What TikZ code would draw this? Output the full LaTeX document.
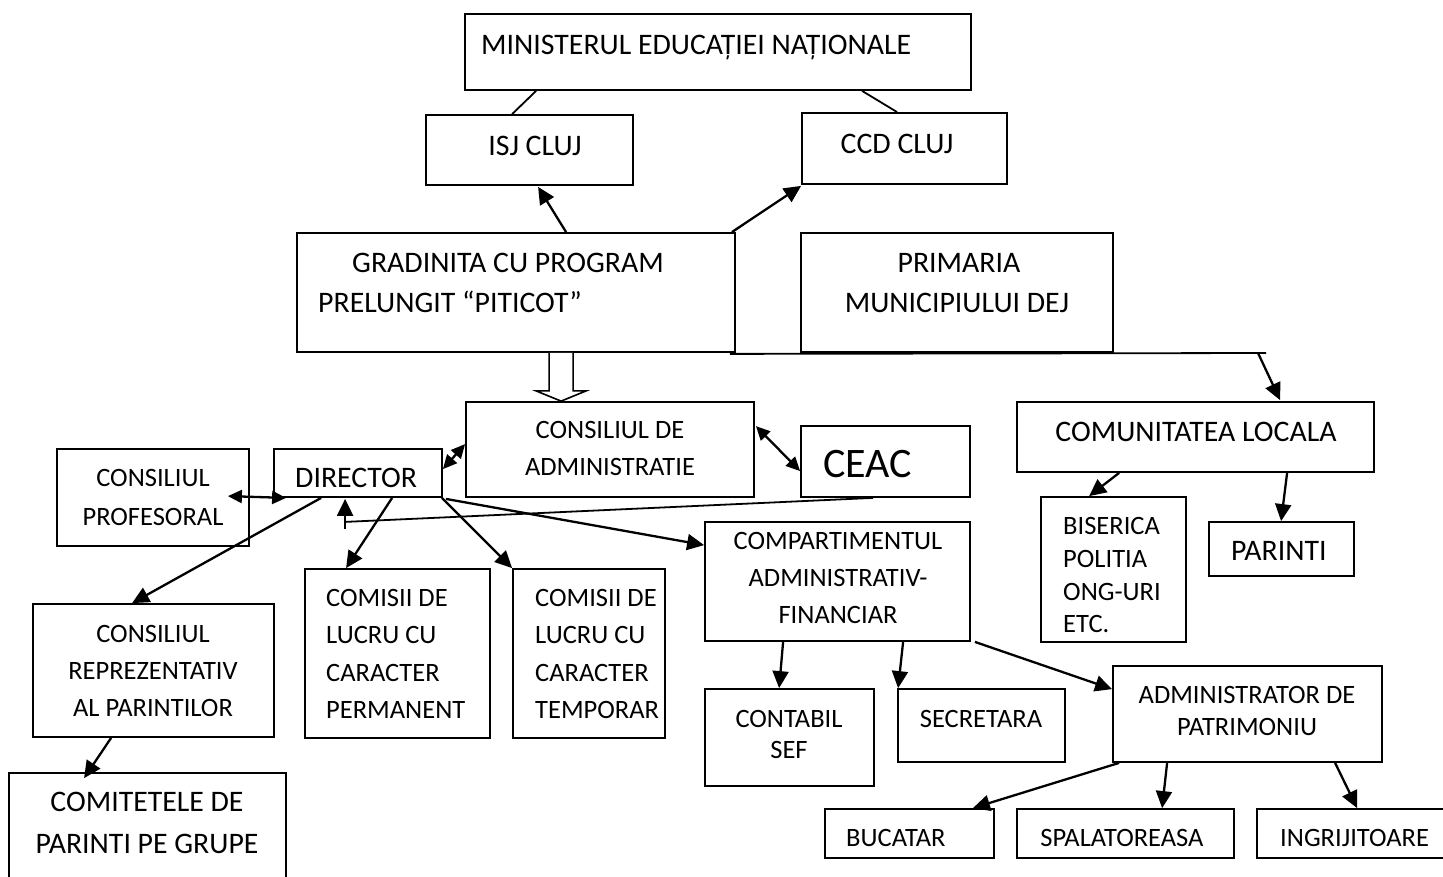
\documentclass[tikz,border=0pt]{standalone}
\usepackage{fontspec}
\setmainfont{Carlito}
\usetikzlibrary{arrows.meta,calc,fit}
\newcommand\tf{\fontsize{26.5}{32}\selectfont}
\newcommand\lf{\fontsize{29.8}{36}\selectfont}
\newcommand\bigtf{\fontsize{42}{48}\selectfont}
\tikzset{
  box/.style={draw, line width=1.8pt, inner sep=0pt},
  lt/.style={inner sep=0pt, anchor=base west, font=\tf},
  ct/.style={inner sep=0pt, anchor=base, font=\tf},
  llt/.style={inner sep=0pt, anchor=base west, font=\lf},
  lct/.style={inner sep=0pt, anchor=base, font=\lf},
  ln/.style={line width=1.8pt},
  arr/.style={line width=2.3pt, -{Triangle[length=17pt,width=16pt]}},
  darr/.style={line width=2.3pt, {Triangle[length=14pt,width=13pt]}-{Triangle[length=14pt,width=13pt]}},
}
\begin{document}
\begin{tikzpicture}[x=1pt,y=-1pt]
\fill[white] (0,0) rectangle (1443,876);
\clip (0,0) rectangle (1443,876);
% boxes
\node[box, fit={(465,14)(971,90)}] (min) {};
\node[box, fit={(426,115)(633,185)}] (isj) {};
\node[box, fit={(802,113)(1007,184)}] (ccd) {};
\node[box, fit={(297,233)(735,352)}] (gra) {};
\node[box, fit={(801,233)(1113,352)}] (pri) {};
\node[box, fit={(466,402)(754,497)}] (cda) {};
\node[box, fit={(801,426)(970,497)}] (ceac) {};
\node[box, fit={(274,449)(442,497)}] (dir) {};
\node[box, fit={(57,449)(249,546)}] (cp) {};
\node[box, fit={(33,604)(274,737)}] (crp) {};
\node[box, fit={(9,773)(286,890)}] (com) {};
\node[box, fit={(305,569)(490,738)}] (cperm) {};
\node[box, fit={(513,569)(665,738)}] (ctemp) {};
\node[box, fit={(705,522)(970,641)}] (cmp) {};
\node[box, fit={(705,689)(874,786)}] (cont) {};
\node[box, fit={(898,689)(1065,762)}] (sec) {};
\node[box, fit={(1113,666)(1382,762)}] (adm) {};
\node[box, fit={(825,809)(994,858)}] (buc) {};
\node[box, fit={(1017,809)(1234,858)}] (spa) {};
\node[box, fit={(1257,809)(1450,858)}] (ing) {};
\node[box, fit={(1017,402)(1374,472)}] (cl) {};
\node[box, fit={(1041,497)(1186,642)}] (bis) {};
\node[box, fit={(1209,522)(1354,576)}] (par) {};
% texts
\node[llt] (tmin) at (481,54) {MINISTERUL EDUCAȚIEI NAȚIONALE};
\node[lct] (tisj) at (535,155) {ISJ CLUJ};
\node[lct] (tccd) at (897,153) {CCD CLUJ};
\node[llt] (tgra1) at (352,272) {GRADINITA CU PROGRAM};
\node[llt] (tgra2) at (318,312) {PRELUNGIT “PITICOT”};
\node[lct] (tpri1) at (959,272) {PRIMARIA};
\node[lct] (tpri2) at (957,312) {MUNICIPIULUI DEJ};
\node[ct] (tcda1) at (610,438) {CONSILIUL DE};
\node[ct] (tcda2) at (610,475) {ADMINISTRATIE};
\node[inner sep=0pt, anchor=base west, font=\bigtf] (tceac) at (823,477) {CEAC};
\node[llt] (tdir) at (295,487) {DIRECTOR};
\node[ct] (tcp1) at (153,486) {CONSILIUL};
\node[ct] (tcp2) at (153,525) {PROFESORAL};
\node[ct] (tcrp1) at (153,642) {CONSILIUL};
\node[ct] (tcrp2) at (153,679) {REPREZENTATIV};
\node[ct] (tcrp3) at (153,716) {AL PARINTILOR};
\node[lct] (tcom1) at (147,811) {COMITETELE DE};
\node[lct] (tcom2) at (147,853) {PARINTI PE GRUPE};
\node[lt] (tcp1a) at (326,606) {COMISII DE};
\node[lt] (tcp1b) at (326,643) {LUCRU CU};
\node[lt] (tcp1c) at (326,681) {CARACTER};
\node[lt] (tcp1d) at (326,718) {PERMANENT};
\node[lt] (tct1a) at (535,606) {COMISII DE};
\node[lt] (tct1b) at (535,643) {LUCRU CU};
\node[lt] (tct1c) at (535,681) {CARACTER};
\node[lt] (tct1d) at (535,718) {TEMPORAR};
\node[ct] (tcmp1) at (838,549) {COMPARTIMENTUL};
\node[ct] (tcmp2) at (838,586) {ADMINISTRATIV-};
\node[ct] (tcmp3) at (838,623) {FINANCIAR};
\node[ct] (tcont1) at (789,727) {CONTABIL};
\node[ct] (tcont2) at (789,758) {SEF};
\node[ct] (tsec) at (981,727) {SECRETARA};
\node[ct] (tadm1) at (1247,703) {ADMINISTRATOR DE};
\node[ct] (tadm2) at (1247,735) {PATRIMONIU};
\node[lt] (tbuc) at (846,846) {BUCATAR};
\node[ct] (tspa) at (1122,846) {SPALATOREASA};
\node[lt] (ting) at (1280,846) {INGRIJITOARE};
\node[lct] (tcl) at (1196,441) {COMUNITATEA LOCALA};
\node[lt] (tbis1) at (1063,534) {BISERICA};
\node[lt] (tbis2) at (1063,567) {POLITIA};
\node[lt] (tbis3) at (1063,600) {ONG-URI};
\node[lt] (tbis4) at (1063,632) {ETC.};
\node[llt] (tpar) at (1231,560) {PARINTI};
% connectors
\draw[ln] ($(min.south west)+(72,0)$) -- ($(isj.north west)+(87,0)$);
\draw[ln] ($(min.south west)+(398,0)$) -- ($(ccd.north west)+(96,0)$);
\draw[arr] ($(gra.north west)+(270,0)$) -- ($(isj.south west)+(113,1)$);
\draw[arr] ($(gra.north east)+(-4,0)$) -- ($(ccd.south west)+(0,1)$);
% open block arrow
\draw[line width=1.6pt, fill=white] ($(gra.south west)+(253,0)$) -- ($(gra.south west)+(253,38)$)
  -- ($(gra.south west)+(240,38)$) -- ($(cda.north west)+(96,0)$)
  -- ($(gra.south west)+(290,38)$) -- ($(gra.south west)+(277,38)$)
  -- ($(gra.south west)+(277,0)$);
% line under gradinita and primaria
\coordinate (hl) at (1266,353);
\draw[ln] ($(gra.south east)+(-6,1)$) -- (hl);
\draw[arr] ($(hl)+(-8,0)$) -- ($(cl.north west)+(264,-1)$);
\draw[darr] ($(dir.north east)+(0,21)$) -- ($(cda.north west)+(0,43)$);
\draw[darr] ($(cda.north east)+(1,25)$) -- ($(ceac.north west)+(0,46)$);
\coordinate (kb) at ($(dir.south west)+(72,31)$);
\draw[ln] ($(ceac.south west)+(73,0)$) -- ($(kb)+(0,-7)$);
\draw[arr] (kb) -- ($(dir.south west)+(72,1)$);
\draw[darr] ($(cp.north east)+(-22,48)$) -- ($(dir.south west)+(13,0)$);
\draw[arr] ($(dir.south west)+(48,0)$) -- ($(crp.north west)+(100,0)$);
\draw[arr] ($(dir.south west)+(119,0)$) -- ($(cperm.north west)+(42,0)$);
\draw[arr] ($(dir.south east)+(-1,0)$) -- (ctemp.north west);
\draw[arr] ($(dir.south east)+(3,1)$) -- ($(cmp.north west)+(0,24)$);
\draw[arr] ($(crp.south west)+(79,0)$) -- ($(com.north west)+(76,6)$);
\draw[arr] ($(cmp.south west)+(79,0)$) -- ($(cont.north west)+(75,0)$);
\draw[arr] ($(cmp.south west)+(199,0)$) -- ($(sec.north west)+(1,0)$);
\draw[arr] ($(cmp.south east)+(4,0)$) -- ($(adm.north west)+(0,24)$);
\draw[arr] ($(adm.south west)+(7,0)$) -- ($(buc.north east)+(-22,0)$);
\draw[arr] ($(adm.south west)+(55,0)$) -- ($(spa.north west)+(146,0)$);
\draw[arr] ($(adm.south west)+(223,0)$) -- ($(ing.north west)+(101,0)$);
\draw[arr] ($(cl.south west)+(103,0)$) -- ($(bis.north west)+(49,0)$);
\draw[arr] ($(cl.south west)+(271,0)$) -- ($(par.north west)+(73,0)$);
\end{tikzpicture}
\end{document}
